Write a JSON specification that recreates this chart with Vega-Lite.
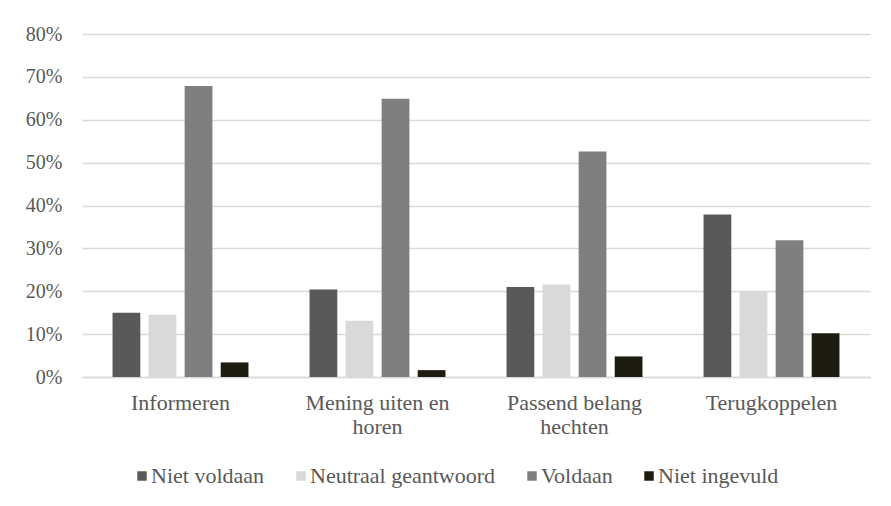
{
  "$schema": "https://vega.github.io/schema/vega-lite/v6.json",
  "width": 788,
  "height": 343,
  "autosize": {"type": "none"},
  "padding": {"left": 82, "top": 34, "right": 21, "bottom": 129},
  "background": "white",
  "config": {
    "view": {"stroke": null},
    "font": "Liberation Serif"
  },
  "data": {
    "values": [
      {"categorie": "Informeren", "antwoord": "Niet voldaan", "percentage": 15.0},
      {"categorie": "Informeren", "antwoord": "Neutraal geantwoord", "percentage": 14.5},
      {"categorie": "Informeren", "antwoord": "Voldaan", "percentage": 67.9},
      {"categorie": "Informeren", "antwoord": "Niet ingevuld", "percentage": 3.4},
      {"categorie": "Mening uiten en horen", "antwoord": "Niet voldaan", "percentage": 20.4},
      {"categorie": "Mening uiten en horen", "antwoord": "Neutraal geantwoord", "percentage": 13.1},
      {"categorie": "Mening uiten en horen", "antwoord": "Voldaan", "percentage": 64.9},
      {"categorie": "Mening uiten en horen", "antwoord": "Niet ingevuld", "percentage": 1.6},
      {"categorie": "Passend belang hechten", "antwoord": "Niet voldaan", "percentage": 21.0},
      {"categorie": "Passend belang hechten", "antwoord": "Neutraal geantwoord", "percentage": 21.6},
      {"categorie": "Passend belang hechten", "antwoord": "Voldaan", "percentage": 52.6},
      {"categorie": "Passend belang hechten", "antwoord": "Niet ingevuld", "percentage": 4.8},
      {"categorie": "Terugkoppelen", "antwoord": "Niet voldaan", "percentage": 37.9},
      {"categorie": "Terugkoppelen", "antwoord": "Neutraal geantwoord", "percentage": 20.0},
      {"categorie": "Terugkoppelen", "antwoord": "Voldaan", "percentage": 31.9},
      {"categorie": "Terugkoppelen", "antwoord": "Niet ingevuld", "percentage": 10.2}
    ]
  },
  "mark": {"type": "bar"},
  "encoding": {
    "x": {
      "field": "categorie",
      "type": "nominal",
      "sort": null,
      "scale": {"paddingInner": 0.31, "paddingOuter": 0.155},
      "axis": {
        "title": null,
        "labelAngle": 0,
        "labelFont": "Liberation Serif",
        "labelFontSize": 22,
        "labelColor": "#595959",
        "labelPadding": 15,
        "labelBaseline": "top",
        "labelLineHeight": 24,
        "labelLimit": 300,
        "labelExpr": "datum.value == 'Mening uiten en horen' ? ['Mening uiten en', 'horen'] : datum.value == 'Passend belang hechten' ? ['Passend belang', 'hechten'] : datum.value",
        "ticks": false,
        "domainColor": "#d9d9d9",
        "domainWidth": 1.5,
        "grid": false
      }
    },
    "xOffset": {
      "field": "antwoord",
      "type": "nominal",
      "sort": ["Niet voldaan", "Neutraal geantwoord", "Voldaan", "Niet ingevuld"],
      "scale": {"paddingInner": 0.23, "paddingOuter": 0}
    },
    "y": {
      "field": "percentage",
      "type": "quantitative",
      "scale": {"domain": [0, 80], "nice": false},
      "axis": {
        "title": null,
        "values": [0, 10, 20, 30, 40, 50, 60, 70, 80],
        "labelExpr": "datum.value + '%'",
        "labelFont": "Liberation Serif",
        "labelFontSize": 20,
        "labelColor": "#595959",
        "labelPadding": 20,
        "ticks": false,
        "domain": false,
        "gridColor": "#d9d9d9",
        "gridWidth": 1.5
      }
    },
    "color": {
      "field": "antwoord",
      "type": "nominal",
      "sort": ["Niet voldaan", "Neutraal geantwoord", "Voldaan", "Niet ingevuld"],
      "scale": {
        "domain": ["Niet voldaan", "Neutraal geantwoord", "Voldaan", "Niet ingevuld"],
        "range": ["#595959", "#d9d9d9", "#7f7f7f", "#1e1c11"]
      },
      "legend": {
        "title": null,
        "orient": "none",
        "legendX": 49,
        "legendY": 431,
        "padding": 0,
        "direction": "horizontal",
        "symbolType": "square",
        "symbolSize": 90,
        "symbolStrokeWidth": 0,
        "labelFont": "Liberation Serif",
        "labelFontSize": 22,
        "labelColor": "#595959",
        "labelOffset": -2,
        "labelLimit": 300,
        "columnPadding": 25
      }
    }
  }
}
